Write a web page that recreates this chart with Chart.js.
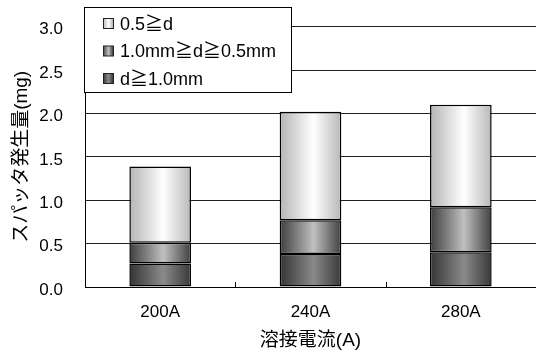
<!DOCTYPE html>
<html>
<head>
<meta charset="utf-8">
<script src="https://cdn.jsdelivr.net/npm/chart.js@4/dist/chart.umd.min.js"></script>
<style>
  html, body { margin: 0; padding: 0; background: #fff; }
  #wrap { width: 536px; height: 358px; }
</style>
</head>
<body>
<div id="wrap"><canvas id="spatterChart" width="536" height="358"></canvas></div>
<script>
// data
const currents = ['200A', '240A', '280A'];
const large = [0.27, 0.38, 0.40];   // d≧1.0mm
const medium = [0.24, 0.39, 0.52];  // 1.0mm≧d≧0.5mm
const small = [0.88, 1.25, 1.18];   // 0.5≧d
const yTicks = [0, 0.5, 1.0, 1.5, 2.0, 2.5, 3.0];

const FONT = '"Liberation Sans", "Noto Sans CJK JP", sans-serif';
const BAR_PCT = 0.41;

// edge / centre greys of the horizontal gradient for each series
const shades = {
  large: ['#343434', '#8a8a8a', '#383838'],
  medium: ['#3e3e3e', '#c0c0c0', '#404040'],
  small: ['#b4b4b4', '#ffffff', '#b8b8b8']
};

function makeGrad(ctx, x0, x1, s) {
  const g = ctx.createLinearGradient(x0, 0, x1, 0);
  g.addColorStop(0, s[0]);
  g.addColorStop(0.55, s[1]);
  g.addColorStop(1, s[2]);
  return g;
}

function barFill(s) {
  return function(c) {
    const xs = c.chart.scales.x;
    if (!xs || c.dataIndex === undefined) return s[1];
    const cx = xs.getPixelForValue(c.dataIndex);
    const half = xs.width / currents.length * BAR_PCT / 2;
    if (!isFinite(cx) || !isFinite(half) || half <= 0) return s[1];
    return makeGrad(c.chart.ctx, cx - half, cx + half, s);
  };
}

// legend box drawn over the top left of the plot + inward ticks on the x axis
const boxLegend = {
  id: 'boxLegend',
  afterDraw(chart) {
    const ctx = chart.ctx;
    const xs = chart.scales.x;
    ctx.save();
    ctx.strokeStyle = '#000';
    ctx.lineWidth = 1;
    const step = xs.width / currents.length;
    for (let i = 1; i < currents.length; i++) {
      const x = Math.round(xs.left + step * i) + 0.5;
      ctx.beginPath();
      ctx.moveTo(x, xs.top);
      ctx.lineTo(x, xs.top - 5);
      ctx.stroke();
    }

    ctx.fillStyle = '#fff';
    ctx.fillRect(84.5, 7.5, 207, 85);
    ctx.strokeRect(84.5, 7.5, 207, 85);
    const items = [
      ['0.5≧d', shades.small],
      ['1.0mm≧d≧0.5mm', shades.medium],
      ['d≧1.0mm', shades.large]
    ];
    ctx.font = '18px ' + FONT;
    ctx.textBaseline = 'middle';
    items.forEach((it, i) => {
      const y = 23.5 + i * 27.5;
      ctx.fillStyle = makeGrad(ctx, 103, 113, it[1]);
      ctx.fillRect(103.5, y - 5, 10, 10);
      ctx.strokeStyle = '#222';
      ctx.strokeRect(103.5, y - 5, 10, 10);
      ctx.fillStyle = '#000';
      ctx.fillText(it[0], 120, y + 1.5);
    });
    ctx.restore();
  }
};

new Chart(document.getElementById('spatterChart'), {
  type: 'bar',
  data: {
    labels: currents,
    datasets: [
      { label: 'd≧1.0mm', data: large, backgroundColor: barFill(shades.large) },
      { label: '1.0mm≧d≧0.5mm', data: medium, backgroundColor: barFill(shades.medium) },
      { label: '0.5≧d', data: small, backgroundColor: barFill(shades.small) }
    ]
  },
  options: {
    responsive: false,
    animation: false,
    layout: { padding: { top: 26.7, right: 0, left: 0, bottom: 0 } },
    datasets: {
      bar: {
        borderColor: '#000',
        borderWidth: 1.5,
        borderSkipped: false,
        barPercentage: BAR_PCT,
        categoryPercentage: 1
      }
    },
    plugins: { legend: { display: false }, tooltip: { enabled: false } },
    scales: {
      x: {
        stacked: true,
        grid: { display: false },
        border: { display: true, color: '#000', width: 1 },
        ticks: { color: '#000', font: { family: FONT, size: 17 }, padding: 7 },
        title: {
          display: true, text: '溶接電流(A)', color: '#000',
          font: { family: FONT, size: 19, lineHeight: 1.2 },
          padding: { top: 0, bottom: 6 }
        },
        afterFit(s) { s.height = 71; }
      },
      y: {
        stacked: true,
        min: 0,
        max: 3,
        afterBuildTicks(s) { s.ticks = yTicks.map(v => ({ value: v })); },
        // invisible tick marks keep the labels off the axis without padding the top
        grid: { color: '#222', lineWidth: 1, drawTicks: true, tickLength: 22, tickColor: 'rgba(0,0,0,0)' },
        border: { display: true, color: '#000', width: 1 },
        ticks: {
          color: '#000', font: { family: FONT, size: 17 }, padding: 0, labelOffset: 3,
          callback: v => v.toFixed(1)
        },
        title: {
          display: true, text: 'スパッタ発生量(mg)', color: '#000',
          font: { family: FONT, size: 19, lineHeight: 1.2 },
          padding: { top: 10, bottom: 0 }
        },
        afterFit(s) { s.width = 85; }
      }
    }
  },
  plugins: [boxLegend]
});
</script>
</body>
</html>
